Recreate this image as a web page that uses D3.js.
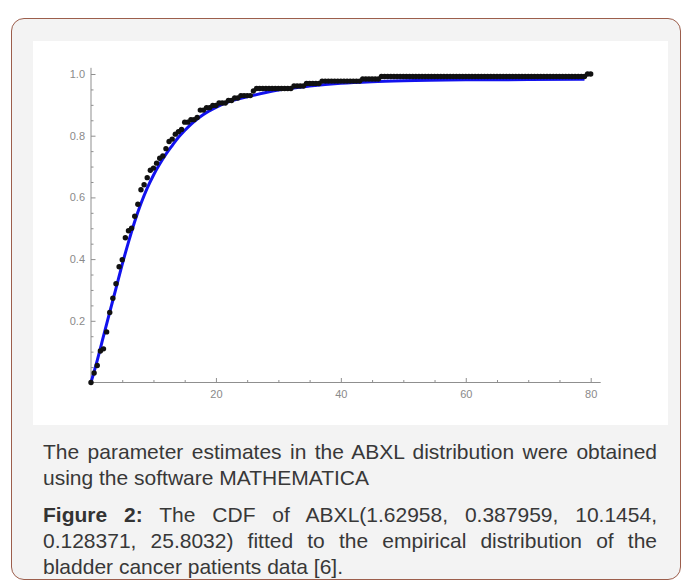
<!DOCTYPE html>
<html>
<head>
<meta charset="utf-8">
<script src="https://cdn.jsdelivr.net/npm/d3@7"></script>
<style>
  html, body { margin: 0; padding: 0; background: #ffffff; }
  body { width: 682px; height: 581px; position: relative; overflow: hidden; font-family: "Liberation Sans", Arial, sans-serif; }
  #card { position: absolute; left: 11px; top: 18px; width: 670px; height: 562px; background: #f3f3f3;
          border: 1.5px solid #9c5e4c; border-radius: 13px; box-sizing: border-box; }
  svg { position: absolute; left: 0; top: 0; }
  .ln { position: absolute; left: 43px; width: 614px; font-size: 21px; line-height: 26px; height: 26px; color: #383838;
        white-space: nowrap; margin: 0; }
  .full { text-align: justify; text-align-last: justify; white-space: normal; }
  .ln b { color: #333; }
</style>
</head>
<body>
<div id="card"></div>
<svg id="chart" width="682" height="581"></svg>
<div class="ln full" style="top:439px">The parameter estimates in the ABXL distribution were obtained</div>
<div class="ln" style="top:465px">using the software MATHEMATICA</div>
<div class="ln full" style="top:502px"><b>Figure 2:</b> The CDF of ABXL(1.62958, 0.387959, 10.1454,</div>
<div class="ln full" style="top:528px">0.128371, 25.8032) fitted to the empirical distribution of the</div>
<div class="ln" style="top:554px">bladder cancer patients data [6].</div>
<script>
// Empirical CDF of the bladder cancer data, sampled every 0.5 from 0 to 80
const ecdfStep = 0.5;
const ecdfY = [
  0, .031, .055, .102, .109, .164, .227, .273, .320, .375,
  .398, .469, .492, .500, .539, .578, .625, .641, .664, .688,
  .695, .711, .727, .734, .758, .781, .789, .805, .813, .820,
  .844, .844, .852, .852, .859, .883, .883, .891, .891, .898,
  .898, .906, .906, .906, .914, .914, .922, .922, .930, .930,
  .930, .930, .945, .953,
  .953, .953, .953, .953, .953, .953, .953, .953, .953, .953, .953,
  .961, .961, .961, .961,
  .969, .969, .969, .969, .969,
  .977, .977, .977, .977, .977, .977, .977, .977, .977, .977, .977, .977, .977,
  .984, .984, .984, .984, .984, .984,
  .992, .992, .992, .992, .992, .992, .992, .992, .992, .992, .992,
  .992, .992, .992, .992, .992, .992, .992, .992, .992, .992, .992,
  .992, .992, .992, .992, .992, .992, .992, .992, .992, .992, .992,
  .992, .992, .992, .992, .992, .992, .992, .992, .992, .992, .992,
  .992, .992, .992, .992, .992, .992, .992, .992, .992, .992, .992,
  .992, .992, .992, .992, .992, .992, .992, .992, .992, .992, .992,
  1, 1
];
// Fitted ABXL CDF
const fitX = [0, 1, 2, 3, 4, 5, 6, 7, 8, 9, 10, 11, 12, 13, 14, 15, 16, 17, 18, 20, 22, 25, 28, 30, 35, 40, 45, 50, 60, 70, 79];
const fitY = [0, .072, .15, .228, .305, .383, .455, .522, .58, .63, .672, .708, .74, .768, .795, .817, .837, .854, .869, .892, .910, .926, .940, .948, .961, .970, .975, .978, .981, .982, .983];
// Ticks
const xMajor = [20, 40, 60, 80];
const xMinor = [5, 10, 15, 25, 30, 35, 45, 50, 55, 65, 70, 75];
const yMajor = [0.2, 0.4, 0.6, 0.8, 1.0];
const yMinor = [0.05, 0.1, 0.15, 0.25, 0.3, 0.35, 0.45, 0.5, 0.55, 0.65, 0.7, 0.75, 0.85, 0.9, 0.95];

const svg = d3.select("#chart");
// white image panel
svg.append("rect").attr("x", 33).attr("y", 41).attr("width", 635).attr("height", 384).attr("fill", "#ffffff");

const x = d3.scaleLinear().domain([0, 80]).range([91, 590.7]);
const y = d3.scaleLinear().domain([0, 1]).range([382.5, 74]);

const axisColor = "#8f8f8f";
const g = svg.append("g");

// axis lines
g.append("line").attr("x1", x(0)).attr("x2", x(81.6)).attr("y1", y(0)).attr("y2", y(0))
  .attr("stroke", axisColor).attr("stroke-width", 1);
g.append("line").attr("x1", x(0)).attr("x2", x(0)).attr("y1", y(0)).attr("y2", y(1.02))
  .attr("stroke", axisColor).attr("stroke-width", 1);

function styleAxis(sel) {
  sel.select(".domain").remove();
  sel.selectAll(".tick line").attr("stroke", axisColor);
  sel.selectAll(".tick text").attr("fill", "#8a8a8a").style("font-family", "'Liberation Sans', Arial, sans-serif").style("font-size", "11px");
}

g.append("g").attr("transform", `translate(0,${y(0)})`)
  .call(d3.axisBottom(x).tickValues(xMajor).tickSize(-4.5).tickPadding(8).tickFormat(d3.format("d")))
  .call(styleAxis);
g.append("g").attr("transform", `translate(0,${y(0)})`)
  .call(d3.axisBottom(x).tickValues(xMinor).tickSize(-2.5).tickFormat(""))
  .call(styleAxis);
g.append("g").attr("transform", `translate(${x(0)},0)`)
  .call(d3.axisLeft(y).tickValues(yMajor).tickSize(-4.5).tickPadding(6).tickFormat(d3.format(".1f")))
  .call(styleAxis);
g.append("g").attr("transform", `translate(${x(0)},0)`)
  .call(d3.axisLeft(y).tickValues(yMinor).tickSize(-2.5).tickFormat(""))
  .call(styleAxis);

// fitted curve
const line = d3.line().x((d, i) => x(fitX[i])).y((d, i) => y(fitY[i])).curve(d3.curveMonotoneX);
svg.append("path").datum(fitY).attr("d", line).attr("fill", "none")
  .attr("stroke", "#1212ee").attr("stroke-width", 3).attr("stroke-linejoin", "round");

// empirical points
svg.append("g").selectAll("circle").data(ecdfY).join("circle")
  .attr("cx", (d, i) => x(i * ecdfStep))
  .attr("cy", d => y(d))
  .attr("r", 2.7)
  .attr("fill", "#111111");
</script>
</body>
</html>
